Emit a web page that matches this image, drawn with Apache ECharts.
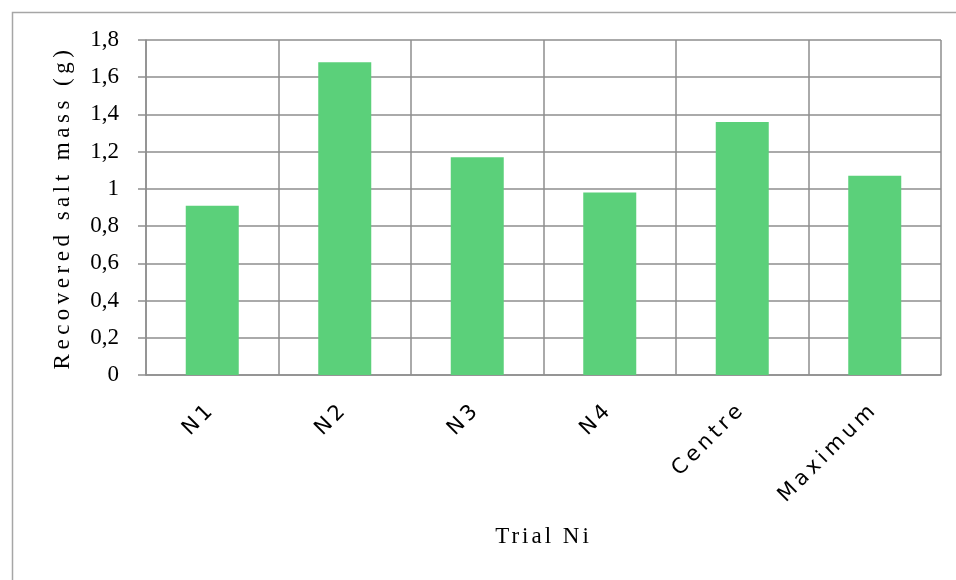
<!DOCTYPE html>
<html>
<head>
<meta charset="utf-8">
<script src="https://cdn.jsdelivr.net/npm/echarts@6/dist/echarts.min.js"></script>
<style>
html,body{margin:0;padding:0;background:#fff;}
#c{width:956px;height:580px;}
</style>
</head>
<body>
<div id="c"></div>
<script>
const categories = ["N1", "N2", "N3", "N4", "Centre", "Maximum"];
const recoveredMass = [0.91, 1.68, 1.17, 0.98, 1.36, 1.07];
const yTicks = { min: 0, max: 1.8, interval: 0.2 };
const yAxisTitle = "Recovered salt mass (g)";
const xAxisTitle = "Trial Ni";

// Wide letter spacing like the original's text rendering
(function () {
  const proto = CanvasRenderingContext2D.prototype;
  const origFill = proto.fillText;
  proto.fillText = function (t, x, y, m) {
    const prev = this.letterSpacing;
    let sp = '0px';
    if (t === yAxisTitle) sp = '4.5px';
    else if (t === xAxisTitle) sp = '3px';
    else if (categories.indexOf(t) >= 0) sp = '4px';
    if ('letterSpacing' in this) this.letterSpacing = sp;
    const r = m === undefined ? origFill.call(this, t, x, y) : origFill.call(this, t, x, y, m);
    if ('letterSpacing' in this) this.letterSpacing = prev;
    return r;
  };
})();

const chart = echarts.init(document.getElementById('c'), null, { renderer: 'canvas' });
const gridColor = '#8e8e8e';
chart.setOption({
  animation: false,
  backgroundColor: '#ffffff',
  graphic: [{
    type: 'rect',
    left: 10, top: 10,
    shape: { width: 1000, height: 1000 },
    style: { fill: 'none', stroke: '#a6a6a6', lineWidth: 1.5 },
    silent: true
  }],
  grid: { left: 146, right: 15, top: 40, bottom: 205, containLabel: false },
  xAxis: {
    type: 'category',
    data: categories,
    boundaryGap: true,
    axisLine: { show: true, lineStyle: { color: gridColor, width: 1.5 } },
    axisTick: { show: false },
    splitLine: { show: true, lineStyle: { color: gridColor, width: 1.5 } },
    axisLabel: {
      rotate: 45,
      margin: 31,
      color: '#000',
      fontFamily: 'DejaVu Sans',
      fontSize: 21,
      interval: 0
    },
    name: xAxisTitle,
    nameLocation: 'middle',
    nameGap: 150,
    nameTextStyle: { fontFamily: 'Liberation Serif', fontSize: 23, color: '#000' }
  },
  yAxis: {
    type: 'value',
    min: yTicks.min,
    max: yTicks.max,
    interval: yTicks.interval,
    axisLine: { show: true, lineStyle: { color: gridColor, width: 1.5 } },
    axisTick: { show: true, length: 8, lineStyle: { color: gridColor, width: 1.5 } },
    splitLine: { show: true, lineStyle: { color: gridColor, width: 1.5 } },
    axisLabel: {
      margin: 27,
      color: '#000',
      fontFamily: 'Liberation Serif',
      fontSize: 23,
      formatter: function (v) {
        const r = Math.round(v * 10) / 10;
        return Number.isInteger(r) ? String(r) : r.toFixed(1).replace('.', ',');
      }
    },
    name: yAxisTitle,
    nameLocation: 'middle',
    nameGap: 72,
    nameRotate: 90,
    nameTextStyle: { fontFamily: 'Liberation Serif', fontSize: 23, color: '#000' }
  },
  series: [{
    type: 'bar',
    data: recoveredMass,
    barWidth: 53,
    itemStyle: { color: '#5bd07a' }
  }]
});
</script>
</body>
</html>
